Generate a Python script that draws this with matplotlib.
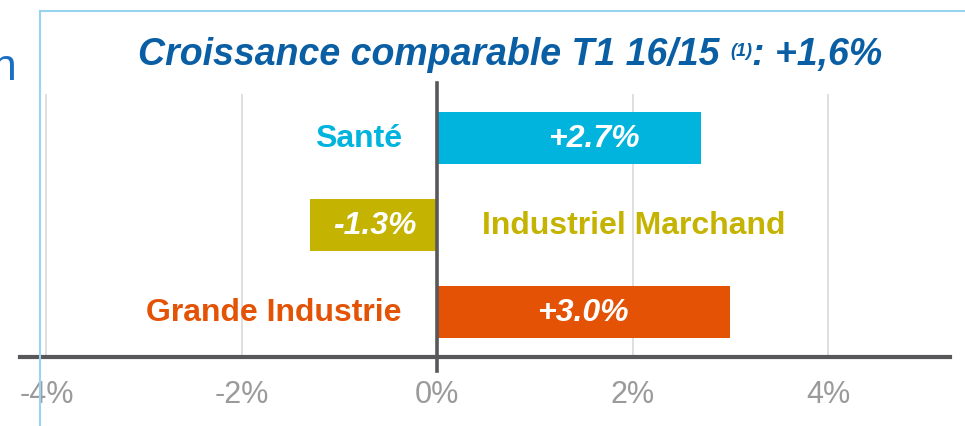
import numpy as np
import matplotlib
matplotlib.use('Agg')
from matplotlib import pyplot as plt
from matplotlib.lines import Line2D

# data
categories = ['Santé', 'Industriel Marchand', 'Grande Industrie']
growth = [2.7, -1.3, 3.0]
value_labels = ['+2.7%', '-1.3%', '+3.0%']
colors = ['#00B4DD', '#C4B300', '#E35205']
xticks = [-4, -2, 0, 2, 4]
xtick_labels = ['-4%', '-2%', '0%', '2%', '4%']
title_main = 'Croissance comparable T1 16/15 '
title_note = '(1)'
title_end = ': +1,6%'

# where the white value labels sit along the bar
value_label_x = [1.6, -0.64, 1.49]

plt.rcParams['font.family'] = ['Liberation Sans', 'DejaVu Sans']

W, H = 965, 427
fig = plt.figure(figsize=(W/100, H/100), dpi=100)
ax = fig.add_axes([20/W, 1-358/H, 930/W, 263/H])

y = np.arange(len(categories))
ax.barh(y, growth, height=0.6, color=colors, zorder=2)

ax.set_xlim(-4.27, 5.25)
ax.set_ylim(2.52, -0.51)

for g in xticks:
    if g != 0:
        ax.axvline(g, color='#DCDCDC', lw=1.3, zorder=1)
ax.axvline(0, ymin=-0.053, ymax=1.04, color='#58585A', lw=2.6, zorder=3, clip_on=False)

for s in ['top', 'right', 'left']:
    ax.spines[s].set_visible(False)
ax.spines['bottom'].set_color('#58585A')
ax.spines['bottom'].set_linewidth(3)
ax.spines['bottom'].set_zorder(4)
ax.set_yticks([])
ax.set_xticks(xticks)
ax.set_xticklabels(xtick_labels)
ax.tick_params(axis='x', length=0, pad=16, labelsize=22, labelcolor='#9A9A9C')

for i, (cat, v) in enumerate(zip(categories, growth)):
    if v >= 0:
        ax.text(-0.36, i, cat, ha='right', va='center', fontsize=23,
                fontweight='bold', color=colors[i])
    else:
        ax.text(0.46, i, cat, ha='left', va='center', fontsize=23,
                fontweight='bold', color=colors[i])
    ax.text(value_label_x[i], i, value_labels[i], ha='center', va='center',
            fontsize=23, fontweight='bold', fontstyle='italic', color='white', zorder=5)

# title in three pieces for the raised note
tcol = '#0A5FA4'
base = 1 - 65/H
t1 = fig.text(138/W, base, title_main, ha='left', va='baseline', fontsize=27,
              fontweight='bold', fontstyle='italic', color=tcol)
fig.canvas.draw()
r = fig.canvas.get_renderer()
x1 = t1.get_window_extent(r).x1 / W
t2 = fig.text(x1, base + 9/H, title_note, ha='left', va='baseline', fontsize=13,
              fontweight='bold', fontstyle='italic', color=tcol)
x2 = t2.get_window_extent(r).x1 / W
fig.text(x2, base, title_end, ha='left', va='baseline', fontsize=27,
         fontweight='bold', fontstyle='italic', color=tcol)

# cut-off text at left and frame lines
fig.text(17/W, 1-80/H, 'n', ha='right', va='baseline', fontsize=32, color='#1A6FC4')
fig.add_artist(Line2D([40/W, 1], [1-12/H, 1-12/H], color='#9AD3F0', lw=1.5, zorder=10))
fig.add_artist(Line2D([40/W, 40/W], [0, 1-12/H], color='#9AD3F0', lw=1.5, zorder=10))

fig.savefig('out.png', dpi=100)
